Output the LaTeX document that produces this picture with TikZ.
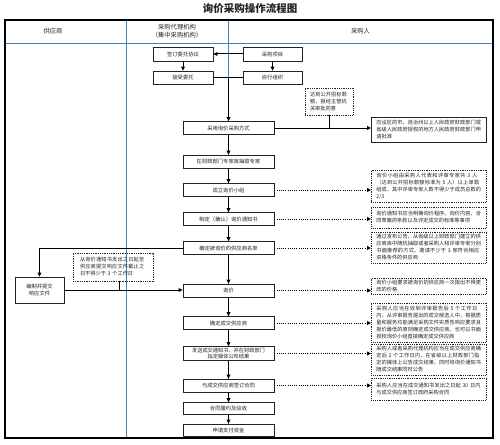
\documentclass[tikz,border=0pt]{standalone}
\usepackage{fontspec}
\setmainfont{Noto Sans CJK SC}
\XeTeXlinebreaklocale "zh"
\XeTeXlinebreakskip=0pt plus 1pt
\usetikzlibrary{arrows.meta}
\definecolor{lane}{RGB}{70,130,185}
\definecolor{ink}{RGB}{35,35,35}
\begin{document}
\begin{tikzpicture}[x=1pt,y=-1pt,
  box/.style={draw=ink, line width=0.75pt, minimum width=91pt, minimum height=13pt, inner sep=1pt,
    font=\fontsize{5.3}{6.8}\selectfont, align=center, fill=white, text=ink},
  sbox/.style={box, minimum width=59pt, minimum height=14pt},
  note/.style={draw=ink, line width=0.8pt, dash pattern=on 0.9pt off 0.9pt, text width=105pt,
    inner xsep=5pt, inner ysep=2pt, font=\fontsize{5.2}{7}\selectfont, align=left, anchor=west, text=ink},
  solidnote/.style={note, solid},
  arr/.style={draw=black, line width=1pt, -{Triangle[length=4pt,width=3.8pt]}},
  plain/.style={draw=black, line width=1pt},
  darr/.style={draw=black, line width=0.9pt, dash pattern=on 1pt off 1.2pt, -{Triangle[length=4pt,width=3.8pt]}},
  hdr/.style={font=\fontsize{6.3}{8}\selectfont, align=center, text=ink},
  lanel/.style={draw=lane, line width=0.9pt}
]
\useasboundingbox (0,0) rectangle (500,444);
% title
\node[font=\fontsize{10.5}{12}\selectfont\bfseries, text=ink] (title) at (250,9) {询价采购操作流程图};
% frame and lanes
\draw[lanel] (126,20) -- (126,438);
\draw[lanel] (228,20) -- (228,438);
\draw[lanel] (5,43) -- (493,43);
\draw[draw=black, line width=1.2pt] (5,20) rectangle (493,438);
\node[hdr] (h1) at (53,31.5) {供应商};
\node[hdr] (h2) at (177,31.5) {采购代理机构\\（集中采购机构）};
\node[hdr] (h3) at (360.5,31.5) {采购人};
% top boxes
\node[sbox, minimum width=60pt] (sign) at (183,54) {签订委托协议};
\node[sbox, minimum width=60pt, minimum height=13pt] (accept) at (183,77.5) {接受委托};
\node[sbox] (pa) at (272.5,54) {采购项目};
\node[sbox, minimum height=13pt] (self) at (272.5,77.5) {自行组织};
\draw[arr] (pa) -- (sign);
\draw[arr] (sign) -- (accept);
\draw[arr] (pa) -- (self);
\draw[plain] (accept) -- (self);
\coordinate (j1) at (228.5,77.5);
% main chain
\node[box] (method) at (228.5,128) {采用询价采购方式};
\node[box] (expert) at (228.5,161.5) {在财政部门专家库抽取专家};
\node[box] (group) at (228.5,190) {成立询价小组};
\node[box] (notice) at (228.5,219) {制定（确认）询价通知书};
\node[box] (list) at (228.5,248) {确定被询价的供应商名单};
\node[box] (inquiry) at (228.5,290.5) {询价};
\node[box] (decide) at (228.5,323) {确定成交供应商};
\node[box, minimum height=14pt, font=\fontsize{5.2}{6.4}\selectfont] (send) at (228.5,353.5) {发送成交通知书，并在财政部门\\指定媒体公布结果};
\node[box] (contract) at (228.5,385.5) {与成交供应商签订合同};
\node[box, minimum height=12pt] (perf) at (228.5,408.5) {合同履约及验收};
\node[box, minimum height=12pt] (pay) at (228.5,430) {申请支付资金};
\draw[arr] (j1) -- (method);
\draw[arr] (method) -- (expert);
\draw[arr] (expert) -- (group);
\draw[arr] (group) -- (notice);
\draw[arr] (notice) -- (list);
\draw[arr] (list) -- (inquiry);
\draw[arr] (inquiry) -- (decide);
\draw[arr] (decide) -- (send);
\draw[arr] (send) -- (contract);
\draw[arr] (contract) -- (perf);
\draw[arr] (perf) -- (pay);
% approval branch
\node[note, text width=38pt, inner xsep=5pt, minimum height=27pt, anchor=center] (d1) at (329,101.5) {达到公开招标数额，报经主管机关审批同意};
\node[solidnote, minimum height=25pt] (approve) at (371,129.5) {向设区的市、自治州以上人民政府财政部门或省级人民政府授权的地方人民政府财政部门申请批准};
\draw[arr] (method.east) -- (method.east -| approve.west);
\draw[plain] (d1.south) -- (d1.south |- method.east);
% notes right
\node[note, minimum height=32pt] (n3) at (371,186) {询价小组由采购人代表和评审专家共 3 人（达到公开招标数额标准为 5 人）以上单数组成，其中评审专家人数不得少于成员总数的2/3};
\node[note, minimum height=21pt] (n4) at (371,217.5) {询价通知书应当明确询价程序、询价内容、合同草案的条款以及评定成交的标准等事项};
\node[note, minimum height=31pt] (n5) at (371,247.5) {通过发布公告、从省级以上财政部门建立的供应商库中随机抽取或者采购人和评审专家分别书面推荐的方式，邀请不少于 3 家符合相应资格条件的供应商};
\node[note, minimum height=16pt] (n6) at (371,286) {询价小组要求被询价的供应商一次报出不得更改的价格};
\node[note, minimum height=39pt] (n7) at (371,322.5) {采购人应当在收到评审报告后 5 个工作日内，从评审报告提出的成交候选人中，根据质量和服务均能满足采购文件实质性响应要求且报价最低的原则确定成交供应商，也可以书面授权询价小组直接确定成交供应商};
\node[note, minimum height=31pt] (n8) at (371,359.5) {采购人或者采购代理机构应当在成交供应商确定后 2 个工作日内，在省级以上财政部门指定的媒体上公告成交结果，同时将询价通知书随成交结果同时公告};
\node[note, minimum height=22pt] (n9) at (371,389) {采购人应当在成交通知书发出之日起 30 日内与成交供应商签订政府采购合同};
\draw[darr] (group.east) -- (group.east -| n3.west);
\draw[darr] (notice.east) -- (notice.east -| n4.west);
\draw[darr] (list.east) -- (list.east -| n5.west);
\draw[darr] (inquiry.east) -- (inquiry.east -| n6.west);
\draw[darr] (decide.east) -- (decide.east -| n7.west);
\draw[darr] (send.east) -- (send.east -| n8.west);
\draw[darr] (contract.east) -- (contract.east -| n9.west);
% supplier branch
\node[box, minimum width=49pt, minimum height=26pt] (resp) at (39.5,290) {编制并提交\\响应文件};
\draw[arr] (list.west) -| (resp.north);
\draw[arr] (resp.east) -- (resp.east -| inquiry.west);
\node[note, text width=66pt, inner xsep=7pt, minimum height=28pt, anchor=center] (d2) at (113,267) {从询价通知书发出之日起至供应商提交响应文件截止之日不得少于 3 个工作日};
\draw[plain] ([xshift=6pt]d2.south) -- ([xshift=6pt]d2.south |- resp.east);
\end{tikzpicture}
\end{document}
